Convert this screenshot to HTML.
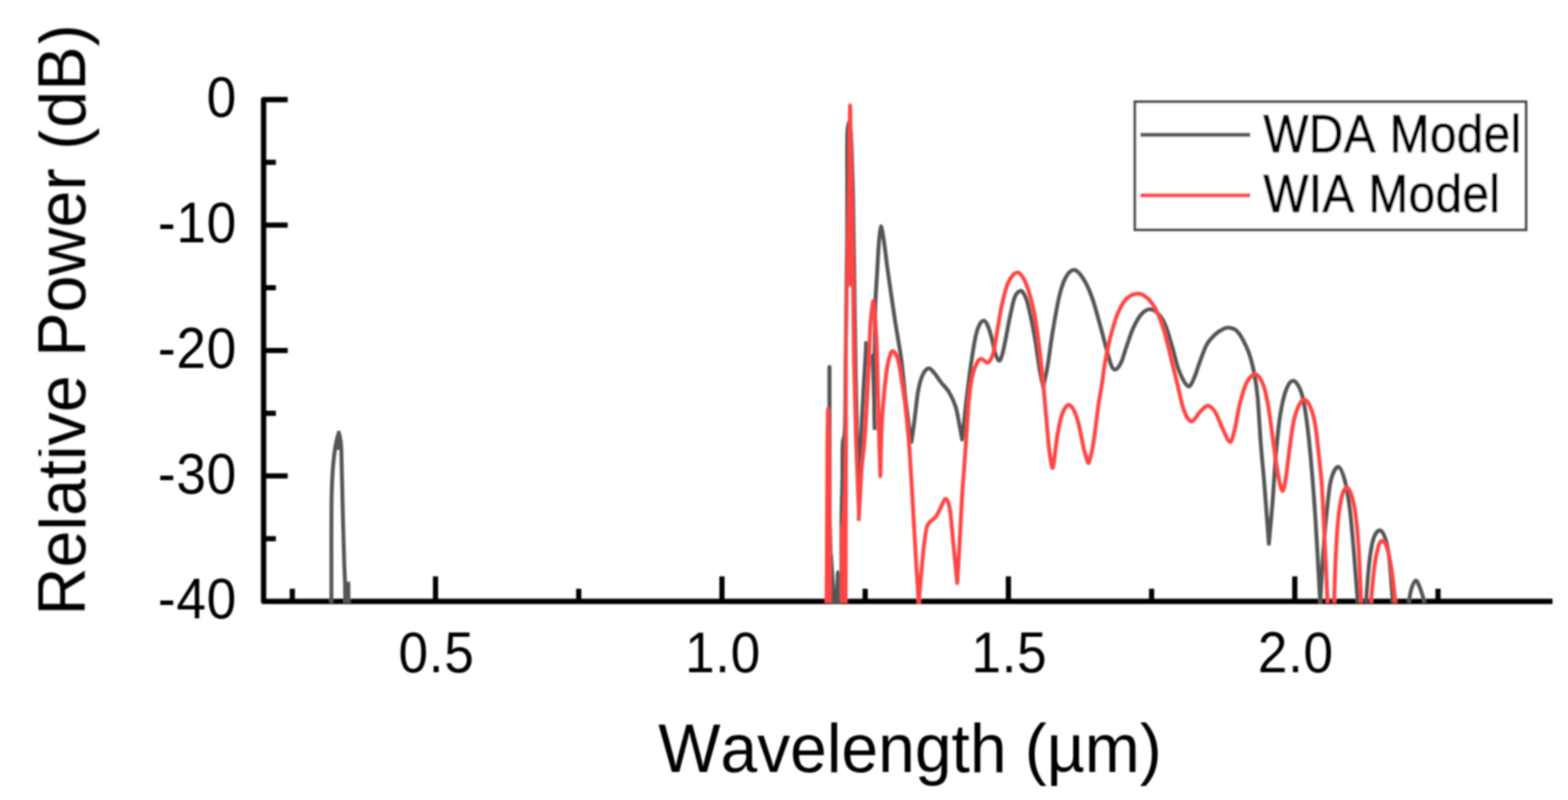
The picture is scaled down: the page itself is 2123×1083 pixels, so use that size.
<!DOCTYPE html>
<html lang="en">
<head>
<meta charset="utf-8">
<title>Relative Power vs Wavelength</title>
<style>
html,body{margin:0;padding:0;background:#fff;}
body{width:2123px;height:1083px;overflow:hidden;}
svg{display:block;}
text{font-family:"Liberation Sans",sans-serif;fill:#000;font-kerning:none;}
.tick{font-size:78px;letter-spacing:0.9px;}
.axl{font-size:92.3px;}
.leg{font-size:72px;}
.leg text{letter-spacing:0.5px;stroke:#000;stroke-width:1.1px;stroke-linejoin:round;}
</style>
</head>
<body>
<svg width="2123" height="1083" viewBox="0 0 2123 1083">
<defs>
<clipPath id="ylab"><rect x="52.2" y="0" width="200" height="1083"/></clipPath>
<clipPath id="plot"><rect x="350" y="100" width="1760" height="717.8"/></clipPath>
<filter id="soft" x="0" y="0" width="2123" height="1083" filterUnits="userSpaceOnUse"><feGaussianBlur stdDeviation="1"/></filter>
</defs>
<rect x="0" y="0" width="2123" height="1083" fill="#fff"/>
<g filter="url(#soft)">
<g id="axes" stroke="#000" stroke-width="7" fill="none" stroke-linecap="butt">
<!-- y axis and x axis -->
<path d="M389.5,134.9 H356.9 V814.1 H2102" stroke-linejoin="round" stroke-width="7.2"/>
<!-- y major ticks -->
<path d="M357,304.7 H389.5 M357,474.5 H389.5 M357,644.3 H389.5"/>
<!-- y minor ticks -->
<path d="M357,219.8 H373.5 M357,389.6 H373.5 M357,559.4 H373.5 M357,729.2 H373.5"/>
<!-- x major ticks -->
<path d="M589.7,814 V780.3 M977.5,814 V780.3 M1365.3,814 V780.3 M1753.1,814 V780.3"/>
<!-- x minor ticks -->
<path d="M395.8,814 V797 M783.6,814 V797 M1171.4,814 V797 M1559.2,814 V797 M1947,814 V797"/>
</g>
<g id="curves" clip-path="url(#plot)" fill="none" stroke-linejoin="round" stroke-linecap="butt">
<!-- WDA model (gray) -->
<path d="M1120.3,816 L1120.3,496 L1123,493.5 L1125.8,496 L1126,700 L1127.5,760 L1129.5,816 Z" fill="#555"/>
<path d="M1127.2,818 L1126.5,750 L1127.6,750 L1130.8,798 L1131.8,775 L1134.3,771 L1136.8,775 L1136.8,818 Z" fill="#555"/>
<path d="M1179,482 L1181.4,477.5 L1183.6,482 L1186.4,582 L1182.2,582 Z" fill="#555"/>
<path d="M465.5,816 L465.5,790 L466.8,787.5 L474.2,787.5 L474.6,816 Z" fill="#555"/>
<path d="M458.8,583.5 L455.5,598 L453.8,609 L462.8,609 L461.6,598 Z" fill="#555"/>
<path d="M448.7,816.0 C448.7,806.7 448.7,782.7 448.7,760.0 C448.7,737.3 448.6,700.0 448.9,680.0 C449.2,660.0 449.6,651.3 450.3,640.0 C451.0,628.7 452.1,619.3 453.0,612.0 C453.9,604.7 454.8,600.4 455.8,596.0 C456.8,591.6 458.3,587.2 458.8,585.5 C459.2,587.2 460.4,591.6 461.0,596.0 C461.6,600.4 461.7,598.0 462.2,612.0 C462.7,626.0 463.2,655.3 463.8,680.0 C464.4,704.7 465.4,741.7 466.0,760.0 C466.6,778.3 466.9,780.7 467.2,790.0 C467.4,799.3 467.4,811.7 467.5,816.0 M1139.5,816.0 C1139.5,798.3 1139.1,737.7 1139.3,710.0 C1139.5,682.3 1140.2,668.2 1140.5,650.0 C1140.8,631.8 1140.4,612.7 1141.0,601.0 C1141.6,589.3 1143.3,598.5 1144.0,580.0 C1144.7,561.5 1144.6,525.0 1145.0,490.0 C1145.4,455.0 1146.0,397.5 1146.3,370.0 C1146.6,342.5 1146.9,345.0 1147.0,325.0 C1147.1,305.0 1147.1,273.8 1147.1,250.0 C1147.1,226.2 1146.8,196.0 1147.2,182.0 C1147.6,168.0 1149.0,168.7 1149.3,166.0 C1149.8,168.3 1151.1,164.3 1152.0,180.0 C1152.9,195.7 1154.0,228.3 1154.8,260.0 C1155.6,291.7 1156.0,331.7 1156.6,370.0 C1157.2,408.3 1157.6,451.7 1158.3,490.0 C1159.0,528.3 1159.7,571.0 1160.5,600.0 C1161.3,629.0 1162.8,653.3 1163.2,664.0 C1163.6,653.3 1164.4,622.3 1165.4,600.0 C1166.4,577.7 1167.9,550.0 1169.0,530.0 C1170.1,510.0 1171.4,491.0 1172.0,480.0 C1172.6,469.0 1172.5,466.8 1172.6,464.2 C1173.0,468.5 1174.1,485.2 1175.0,490.0 C1175.9,494.8 1177.5,492.5 1178.0,493.0 M1184.2,582.0 C1184.1,573.3 1183.5,552.0 1183.6,530.0 C1183.7,508.0 1184.3,470.2 1184.6,450.0 C1184.9,429.8 1184.8,422.1 1185.3,408.8 C1185.8,395.5 1186.8,382.3 1187.5,370.0 C1188.2,357.7 1188.9,344.2 1189.5,335.0 C1190.1,325.8 1190.7,319.8 1191.3,315.0 C1191.9,310.2 1192.7,307.9 1193.0,306.5 C1193.3,307.9 1194.2,310.2 1195.0,315.0 C1195.8,319.8 1196.8,325.8 1198.0,335.0 C1199.2,344.2 1200.2,353.8 1202.5,370.0 C1204.8,386.2 1208.5,412.3 1211.5,432.0 C1214.5,451.7 1218.1,470.0 1220.5,488.0 C1222.9,506.0 1224.2,524.7 1226.0,540.0 C1227.8,555.3 1229.7,570.3 1231.0,580.0 C1232.3,589.7 1233.5,595.3 1234.0,598.4 C1234.7,593.7 1236.5,581.4 1238.0,570.0 C1239.5,558.6 1241.2,540.3 1243.0,530.0 C1244.8,519.7 1246.6,513.2 1249.0,508.0 C1251.4,502.8 1254.6,499.2 1257.3,498.7 C1260.0,498.2 1262.2,501.9 1265.0,505.0 C1267.8,508.1 1270.7,513.2 1274.0,517.5 C1277.3,521.8 1281.7,525.4 1285.0,531.0 C1288.3,536.6 1291.7,543.7 1294.0,551.0 C1296.3,558.3 1297.5,567.7 1299.0,575.0 C1300.5,582.3 1302.1,591.7 1302.7,595.0 C1303.2,590.8 1304.5,579.3 1305.5,570.0 C1306.5,560.7 1307.3,551.9 1308.8,539.4 C1310.3,526.9 1312.4,509.1 1314.4,495.0 C1316.4,480.9 1319.1,464.2 1321.0,455.0 C1322.9,445.8 1324.2,443.5 1326.0,440.0 C1327.8,436.5 1330.2,434.2 1332.0,434.2 C1333.8,434.2 1335.3,436.5 1337.0,440.0 C1338.7,443.5 1340.2,448.7 1342.0,455.0 C1343.8,461.3 1345.7,472.4 1347.5,478.0 C1349.3,483.6 1351.1,488.1 1352.7,488.4 C1354.3,488.7 1355.6,484.4 1357.0,480.0 C1358.4,475.6 1359.2,470.6 1361.0,462.0 C1362.8,453.4 1365.3,438.6 1367.5,428.6 C1369.7,418.6 1371.7,407.8 1374.0,402.0 C1376.3,396.2 1379.3,394.3 1381.5,393.8 C1383.7,393.3 1385.2,395.8 1387.0,399.0 C1388.8,402.2 1389.7,403.6 1392.0,413.0 C1394.3,422.4 1398.2,440.8 1400.8,455.2 C1403.4,469.6 1405.5,488.0 1407.4,499.5 C1409.4,511.0 1411.7,519.9 1412.5,524.0 C1413.5,519.2 1416.4,507.2 1418.5,495.0 C1420.6,482.8 1422.4,466.3 1425.0,450.8 C1427.6,435.3 1431.0,414.6 1434.0,402.0 C1437.0,389.4 1439.5,381.5 1443.0,375.4 C1446.5,369.3 1451.0,365.1 1455.0,365.5 C1459.0,365.9 1463.1,371.6 1467.0,377.7 C1470.9,383.8 1474.6,391.7 1478.3,402.0 C1482.0,412.3 1486.1,427.9 1489.4,439.7 C1492.7,451.5 1495.7,463.7 1498.3,473.0 C1500.9,482.3 1503.0,490.9 1505.0,495.5 C1507.0,500.1 1508.3,500.3 1510.0,500.4 C1511.7,500.5 1513.4,498.2 1515.0,496.0 C1516.6,493.8 1517.8,491.6 1519.5,487.0 C1521.2,482.4 1522.9,475.7 1525.4,468.6 C1527.9,461.5 1531.0,451.4 1534.3,444.2 C1537.6,437.0 1541.5,429.6 1545.4,425.4 C1549.3,421.1 1553.5,418.5 1557.6,418.7 C1561.7,418.9 1566.3,422.6 1569.8,426.5 C1573.3,430.4 1575.6,434.6 1578.6,442.0 C1581.5,449.4 1584.5,460.8 1587.5,470.8 C1590.5,480.8 1592.8,493.1 1596.3,501.8 C1599.8,510.5 1605.2,520.9 1608.5,522.8 C1611.8,524.6 1613.5,518.6 1616.3,512.9 C1619.0,507.2 1622.0,496.3 1625.0,488.5 C1628.0,480.7 1630.7,472.2 1634.0,466.3 C1637.3,460.4 1641.3,456.5 1645.0,453.0 C1648.7,449.5 1653.0,446.9 1656.2,445.3 C1659.4,443.8 1661.0,443.3 1664.0,443.7 C1667.0,444.1 1670.9,444.8 1674.0,447.5 C1677.1,450.2 1679.8,454.3 1682.7,459.7 C1685.6,465.1 1689.0,471.9 1691.6,479.6 C1694.2,487.4 1696.4,496.6 1698.3,506.2 C1700.2,515.8 1701.2,521.6 1702.7,537.2 C1704.2,552.8 1705.5,580.0 1707.0,600.0 C1708.5,620.0 1710.2,634.3 1712.0,657.0 C1713.8,679.7 1717.0,723.1 1718.0,736.3 C1718.8,726.8 1721.4,699.9 1723.0,679.4 C1724.6,658.9 1726.0,632.2 1727.7,613.0 C1729.4,593.8 1730.8,578.0 1733.0,564.0 C1735.2,550.0 1738.0,536.8 1741.0,528.7 C1744.0,520.6 1747.7,515.4 1751.0,515.4 C1754.3,515.4 1758.2,521.7 1761.0,528.7 C1763.8,535.7 1765.3,543.5 1767.5,557.5 C1769.7,571.5 1771.8,589.5 1774.0,613.0 C1776.2,636.5 1778.5,664.8 1780.8,698.6 C1783.0,732.4 1786.4,796.4 1787.5,816.0 C1788.2,803.8 1790.5,763.3 1792.0,743.0 C1793.5,722.7 1794.6,709.5 1796.3,694.0 C1798.0,678.5 1799.4,660.3 1802.0,650.0 C1804.6,639.7 1808.8,632.0 1811.9,632.0 C1815.0,632.0 1818.1,640.8 1820.7,650.0 C1823.3,659.2 1825.6,673.8 1827.4,687.5 C1829.2,701.2 1830.3,715.4 1831.8,732.0 C1833.3,748.6 1835.1,773.0 1836.2,787.0 C1837.3,801.0 1838.0,811.2 1838.4,816.0 M1849.5,816.0 C1850.2,806.8 1852.3,775.1 1854.0,760.7 C1855.7,746.3 1857.2,736.7 1859.5,729.6 C1861.8,722.5 1865.3,718.2 1868.0,718.0 C1870.7,717.8 1873.3,722.2 1875.5,728.5 C1877.7,734.8 1879.3,741.4 1881.0,756.0 C1882.7,770.6 1885.0,806.0 1885.8,816.0 M1907.3,816.0 C1907.9,812.8 1909.4,802.0 1911.0,797.0 C1912.6,792.0 1915.0,786.0 1917.0,786.0 C1919.0,786.0 1921.0,792.0 1923.0,797.0 C1925.0,802.0 1928.0,812.8 1929.0,816.0" stroke="#555" stroke-width="5.3"/>
<!-- WIA model (red) -->
<path d="M1116.6,816 L1117.7,600 L1118.5,553 L1121,550.5 L1124,553 L1125.3,600 L1126,700 L1126.3,816 Z" fill="#ff4444"/>
<path d="M1137.4,816 L1137.7,716 L1140,700 L1142,650 L1142.7,600 L1142.7,490 L1144.6,370 L1147.6,250 L1148.2,142 L1151,139.5 L1153.7,142 L1155.4,250 L1157.6,370 L1159.3,490 L1161.5,600 L1164,690 L1162.6,707 L1160.2,690 L1156.5,600 L1153.7,490 L1152.5,390 L1150.8,386 L1148.8,390 L1147.6,490 L1148,600 L1147.6,816 Z" fill="#ff4444"/>
<path d="M1162.6,705.0 C1162.9,699.2 1163.8,682.5 1164.5,670.0 C1165.2,657.5 1166.0,641.7 1167.0,630.0 C1168.0,618.3 1169.1,615.0 1170.3,600.0 C1171.5,585.0 1173.0,558.3 1174.0,540.0 C1175.0,521.7 1175.8,506.7 1176.5,490.0 C1177.2,473.3 1177.6,453.7 1178.5,440.0 C1179.4,426.3 1181.4,413.1 1182.0,407.7 C1182.6,413.1 1184.6,427.9 1185.5,440.0 C1186.4,452.1 1187.0,465.0 1187.5,480.0 C1188.0,495.0 1188.1,510.0 1188.6,530.0 C1189.1,550.0 1189.9,581.0 1190.5,600.0 C1191.1,619.0 1191.8,636.9 1192.0,644.3 C1192.3,632.4 1192.9,594.1 1194.0,573.0 C1195.1,551.9 1197.1,531.5 1198.6,517.5 C1200.1,503.4 1201.3,495.7 1203.0,488.7 C1204.7,481.7 1206.3,475.5 1208.5,475.5 C1210.7,475.5 1213.9,479.8 1216.3,488.7 C1218.7,497.6 1221.4,518.2 1223.0,528.6 C1224.6,539.0 1224.7,538.6 1226.0,551.0 C1227.3,563.4 1229.3,580.7 1231.0,603.0 C1232.7,625.3 1234.4,657.8 1236.0,685.0 C1237.6,712.2 1239.4,744.2 1240.7,766.0 C1242.0,787.8 1243.5,807.7 1244.0,816.0 C1244.5,809.5 1246.0,790.8 1247.3,777.0 C1248.6,763.2 1250.2,744.0 1251.7,733.0 C1253.2,722.0 1253.5,716.3 1256.0,710.8 C1258.5,705.2 1264.0,703.8 1267.0,699.7 C1270.0,695.6 1271.8,690.5 1274.0,686.4 C1276.2,682.3 1278.5,674.9 1280.5,675.3 C1282.5,675.7 1284.3,679.0 1286.0,688.6 C1287.7,698.2 1288.8,716.2 1290.5,733.0 C1292.2,749.8 1295.1,780.0 1296.0,789.4 C1296.6,780.0 1298.3,752.9 1299.4,733.0 C1300.5,713.1 1301.7,686.7 1302.7,670.0 C1303.7,653.3 1304.6,645.2 1305.5,633.0 C1306.4,620.8 1307.2,608.1 1308.0,597.0 C1308.8,585.9 1309.3,576.1 1310.0,566.5 C1310.7,556.9 1310.9,549.1 1312.0,539.4 C1313.1,529.7 1314.8,516.5 1316.6,508.4 C1318.4,500.3 1321.0,494.5 1323.0,490.7 C1325.0,486.9 1326.4,485.8 1328.8,485.8 C1331.2,485.8 1335.0,491.7 1337.6,490.7 C1340.2,489.7 1342.3,486.2 1344.3,479.6 C1346.3,473.0 1347.8,461.9 1349.8,450.8 C1351.8,439.7 1353.9,424.5 1356.5,413.0 C1359.1,401.5 1361.8,389.4 1365.3,382.0 C1368.8,374.6 1373.8,369.1 1377.5,368.8 C1381.2,368.5 1384.4,373.7 1387.5,380.0 C1390.6,386.3 1393.7,396.6 1396.3,406.5 C1398.9,416.4 1400.8,425.4 1403.0,439.7 C1405.2,453.9 1407.8,475.9 1409.6,492.0 C1411.4,508.1 1412.3,518.0 1414.0,536.0 C1415.7,554.0 1418.2,585.2 1419.6,599.7 C1421.0,614.2 1421.7,617.4 1422.5,623.0 C1423.3,628.6 1424.0,633.2 1424.7,633.5 C1425.5,633.8 1425.8,632.5 1427.0,625.0 C1428.2,617.5 1429.9,599.5 1431.8,588.6 C1433.7,577.7 1435.8,566.5 1438.4,559.8 C1441.1,553.1 1444.4,547.2 1447.7,548.3 C1451.0,549.4 1455.2,556.8 1458.4,566.5 C1461.7,576.2 1465.1,597.4 1467.2,606.3 C1469.3,615.2 1470.0,616.6 1471.0,620.0 C1472.0,623.4 1472.6,626.6 1473.4,626.8 C1474.2,627.0 1474.8,625.5 1476.0,621.0 C1477.2,616.5 1478.6,611.8 1480.5,599.7 C1482.4,587.7 1485.3,562.0 1487.2,548.7 C1489.1,535.4 1490.4,530.0 1492.0,520.0 C1493.6,510.0 1494.3,500.4 1496.6,488.5 C1498.8,476.6 1502.5,459.7 1505.5,448.6 C1508.5,437.5 1511.1,429.4 1514.4,422.0 C1517.7,414.6 1521.0,408.4 1525.4,404.3 C1529.8,400.2 1536.2,397.7 1541.0,397.7 C1545.8,397.7 1550.2,400.6 1554.3,404.3 C1558.3,408.0 1561.6,412.4 1565.3,419.8 C1569.0,427.2 1573.1,437.9 1576.4,448.6 C1579.7,459.3 1582.4,472.2 1585.3,484.0 C1588.2,495.8 1591.4,508.8 1594.0,519.5 C1596.6,530.2 1598.7,541.0 1600.8,548.3 C1602.9,555.6 1604.5,559.8 1606.5,563.5 C1608.5,567.2 1611.0,570.1 1613.0,570.5 C1615.0,570.9 1616.7,568.0 1618.5,566.0 C1620.3,564.0 1621.2,561.3 1624.0,558.5 C1626.8,555.7 1631.5,549.6 1635.0,549.4 C1638.5,549.2 1641.8,552.6 1645.0,557.2 C1648.2,561.8 1650.7,570.2 1654.0,577.0 C1657.3,583.8 1662.0,597.4 1665.0,598.2 C1668.0,599.0 1669.5,589.9 1671.7,581.6 C1673.9,573.3 1675.7,558.6 1678.3,548.3 C1680.9,537.9 1683.7,526.5 1687.2,519.5 C1690.7,512.5 1695.6,506.3 1699.4,506.4 C1703.2,506.5 1707.1,513.3 1710.0,520.0 C1712.9,526.7 1714.4,534.7 1716.6,546.5 C1718.8,558.3 1721.0,576.4 1723.0,590.8 C1725.0,605.2 1727.1,622.3 1728.8,633.0 C1730.5,643.7 1731.7,649.8 1733.0,655.0 C1734.3,660.2 1735.4,664.3 1736.5,664.5 C1737.6,664.7 1738.5,660.8 1739.5,656.0 C1740.5,651.2 1741.2,646.1 1742.5,636.0 C1743.8,625.9 1746.0,606.4 1747.6,595.2 C1749.2,584.0 1750.2,576.4 1752.0,568.6 C1753.8,560.9 1756.3,553.3 1758.7,548.7 C1761.1,544.1 1763.8,540.6 1766.4,541.0 C1769.0,541.4 1771.8,545.3 1774.2,551.0 C1776.6,556.7 1779.0,565.0 1780.8,575.3 C1782.6,585.6 1783.8,599.4 1785.3,613.0 C1786.8,626.6 1788.4,639.0 1789.7,657.0 C1791.0,675.0 1791.7,694.3 1793.0,720.8 C1794.3,747.3 1796.8,800.1 1797.5,816.0 M1806.3,816.0 C1806.7,805.7 1807.6,772.8 1808.5,754.0 C1809.4,735.2 1810.4,717.0 1811.9,703.0 C1813.4,689.0 1815.5,677.0 1817.4,669.8 C1819.4,662.6 1821.6,660.0 1823.6,660.0 C1825.6,660.0 1827.7,664.1 1829.6,669.8 C1831.5,675.5 1833.3,681.8 1835.0,694.0 C1836.7,706.2 1838.3,722.7 1839.6,743.0 C1840.9,763.3 1842.4,803.8 1842.9,816.0 M1856.2,816.0 C1856.9,808.2 1859.0,782.0 1860.6,769.5 C1862.2,757.0 1864.2,747.0 1866.0,740.7 C1867.8,734.5 1869.7,731.6 1871.7,732.0 C1873.8,732.4 1876.3,736.8 1878.3,743.0 C1880.3,749.2 1882.1,757.3 1883.9,769.5 C1885.8,781.7 1888.5,808.2 1889.4,816.0" stroke="#ff4444" stroke-width="5.3"/>
</g>
<g id="ticklabels" class="tick">
<text transform="translate(320.6,158.1) scale(0.925,1)" text-anchor="end">0</text>
<text transform="translate(320.6,327.9) scale(0.925,1)" text-anchor="end">-10</text>
<text transform="translate(320.6,497.7) scale(0.925,1)" text-anchor="end">-20</text>
<text transform="translate(320.6,667.5) scale(0.925,1)" text-anchor="end">-30</text>
<text transform="translate(320.6,837.3) scale(0.925,1)" text-anchor="end">-40</text>
<text transform="translate(591,909.8) scale(0.925,1)" text-anchor="middle">0.5</text>
<text transform="translate(978.8,909.8) scale(0.925,1)" text-anchor="middle">1.0</text>
<text transform="translate(1366.6,909.8) scale(0.925,1)" text-anchor="middle">1.5</text>
<text transform="translate(1754.4,909.8) scale(0.925,1)" text-anchor="middle">2.0</text>
</g>
<text class="axl" transform="translate(891.3,1045.3) scale(0.9675,1)">Wavelength (µm)</text>
<g clip-path="url(#ylab)">
<text class="axl" transform="translate(115.2,833.3) rotate(-90) scale(0.9755,1)">Relative Power (dB)</text>
</g>
<g id="legend">
<rect x="1536.6" y="137.7" width="529.6" height="173.4" fill="#fff" stroke="#484848" stroke-width="3.6"/>
<line x1="1544" y1="182.6" x2="1692.7" y2="182.6" stroke="#585858" stroke-width="5.5"/>
<line x1="1544" y1="264.5" x2="1692.7" y2="264.5" stroke="#ff4444" stroke-width="5.5"/>
<g class="leg">
<text transform="translate(1710.5,205.7) scale(0.9,1)">WDA Model</text>
<text transform="translate(1710.5,287.2) scale(0.9,1)">WIA Model</text>
</g>
</g>
</g>
</svg>
</body>
</html>
